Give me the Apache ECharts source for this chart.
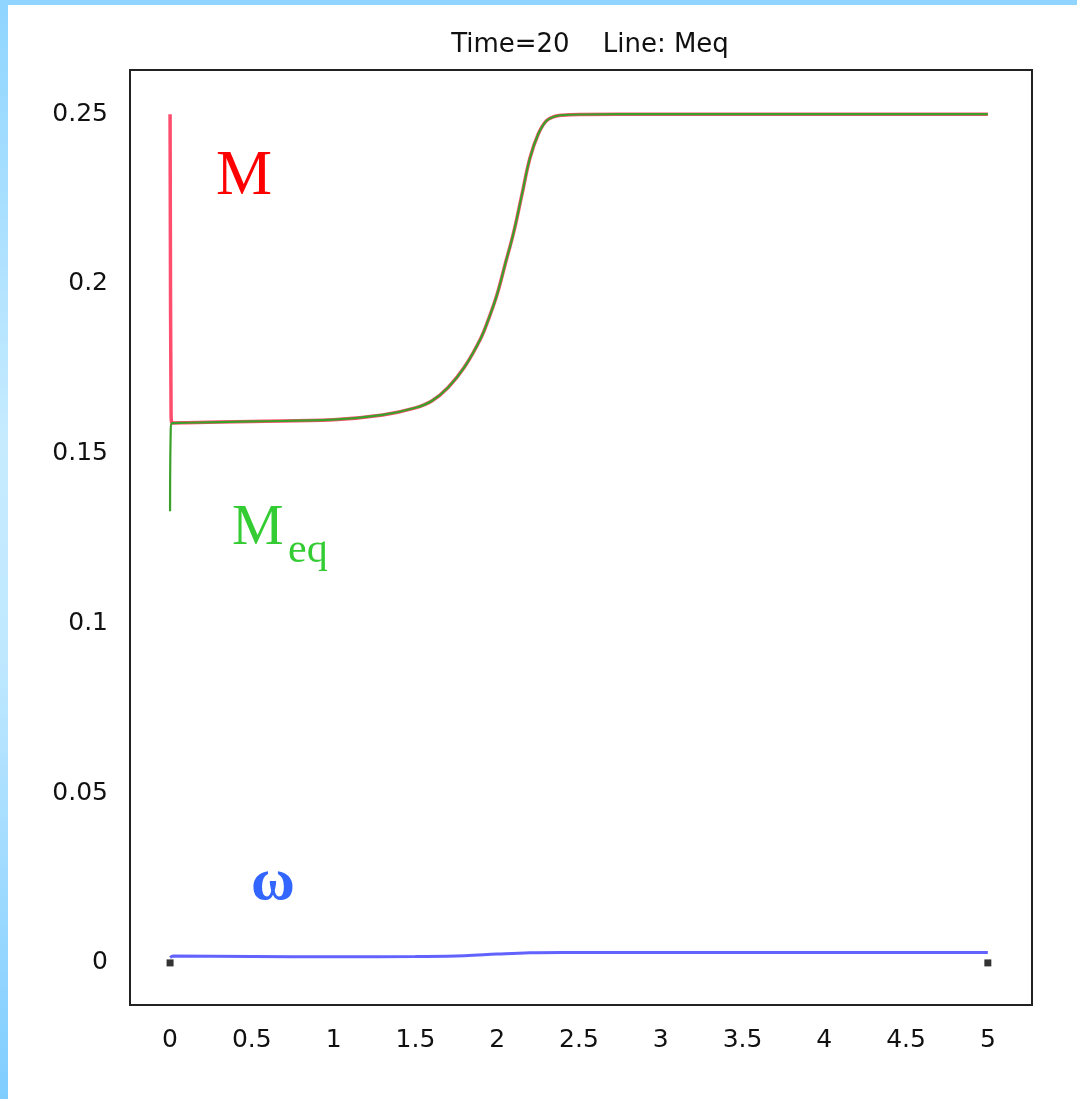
<!DOCTYPE html>
<html>
<head>
<meta charset="utf-8">
<script src="https://cdn.jsdelivr.net/npm/echarts@6/dist/echarts.min.js"></script>
<style>
  html, body { margin: 0; padding: 0; background: #fff; }
  .page { position: relative; width: 1077px; height: 1099px; overflow: hidden; }
  .edge-top { position: absolute; left: 0; top: 0; width: 1077px; height: 5px; background: #8fd5ff; }
  .edge-left { position: absolute; left: 0; top: 0; width: 8px; height: 1099px;
    background: linear-gradient(to bottom, #8fd5ff 0%, #c6ebff 40%, #bfe8ff 60%, #7fcdff 100%); }
  #chart { position: absolute; left: 0; top: 0; width: 1077px; height: 1099px; }
</style>
</head>
<body>
<div class="page">
  <div class="edge-top"></div>
  <div class="edge-left"></div>
  <div id="chart"></div>
</div>
<script>
// tick labels
const xTicks = [0, 0.5, 1, 1.5, 2, 2.5, 3, 3.5, 4, 4.5, 5]
const yTicks = [0, 0.05, 0.1, 0.15, 0.2, 0.25]

// shared tail of M and Meq (they overlap after the first instant)
const tailX = [0.1, 0.5, 1.0, 1.3, 1.5, 1.6, 1.7, 1.8, 1.9, 1.95, 2.0, 2.05, 2.1, 2.15, 2.2, 2.25, 2.3, 2.35, 2.4, 2.5, 3, 5]
const tailY = [0.1591, 0.1595, 0.1600, 0.1614, 0.1635, 0.1655, 0.1695, 0.1755, 0.1840, 0.1900, 0.1970, 0.2060, 0.2150, 0.2260, 0.2370, 0.2440, 0.2480, 0.2493, 0.2497, 0.2499, 0.2500, 0.2500]

// start of each curve
const mHeadX = [0, 0.006, 0.012]
const mHeadY = [0.25, 0.163, 0.159]
const meqHeadX = [0, 0.004, 0.012]
const meqHeadY = [0.133, 0.157, 0.159]

// omega
const wX = [0, 0.02, 0.5, 1.0, 1.5, 1.8, 2.0, 2.2, 2.4, 3, 4, 5]
const wY = [0.0016, 0.0020, 0.0019, 0.0018, 0.0019, 0.0021, 0.0026, 0.0030, 0.0031, 0.0031, 0.0031, 0.0031]

// end markers
const markX = [0, 5]
const markY = [0, 0]

const pair = (xs, ys) => xs.map((x, i) => [x, ys[i]])
const mData = pair(mHeadX.concat(tailX), mHeadY.concat(tailY))
const meqData = pair(meqHeadX.concat(tailX), meqHeadY.concat(tailY))

const labelFont = {fontFamily: 'DejaVu Sans', fontSize: 25, color: '#111'}

const chart = echarts.init(document.getElementById('chart'), null, {renderer: 'canvas'})
chart.setOption({
  animation: false,
  title: {
    text: 'Time=20    Line: Meq',
    left: 585, top: 27, textAlign: 'center',
    textStyle: {fontFamily: 'DejaVu Sans', fontSize: 26, fontWeight: 'normal', color: '#111'}
  },
  grid: {
    left: 130, top: 70, right: 45, bottom: 94,
    show: true, borderColor: '#222', borderWidth: 2, backgroundColor: 'transparent'
  },
  xAxis: {
    type: 'value', min: -0.245, max: 5.27,
    axisLine: {show: false}, splitLine: {show: false},
    axisTick: {show: false},
    axisLabel: Object.assign({customValues: xTicks, margin: 23}, labelFont)
  },
  yAxis: {
    type: 'value', min: -0.0124, max: 0.263,
    axisLine: {show: false}, splitLine: {show: false},
    axisTick: {show: false},
    axisLabel: Object.assign({customValues: yTicks, margin: 22}, labelFont)
  },
  series: [
    {
      name: 'M', type: 'line', data: mData, showSymbol: false,
      smooth: 0.4,
      lineStyle: {color: '#ff4d6d', width: 3.5}
    },
    {
      name: 'Meq', type: 'line', data: meqData, showSymbol: false,
      smooth: 0.4,
      lineStyle: {color: '#3aa02a', width: 2.2}
    },
    {
      name: 'omega', type: 'line', data: pair(wX, wY), showSymbol: false,
      smooth: 0.4,
      lineStyle: {color: '#3b3bff', width: 3, opacity: 0.8}
    },
    {
      name: 'ends', type: 'scatter', data: pair(markX, markY),
      symbol: 'rect', symbolSize: 7, itemStyle: {color: '#000'}
    }
  ],
  graphic: [
    {type: 'text', left: 216, top: 146,
      style: {text: 'M', font: '63px "Liberation Serif"', fill: '#ff0000'}},
    {type: 'text', left: 232, top: 500,
      style: {text: 'M', font: '58px "Liberation Serif"', fill: '#33cc33'}},
    {type: 'text', left: 288, top: 530,
      style: {text: 'eq', font: '42px "Liberation Serif"', fill: '#33cc33'}},
    {type: 'text', left: 251, top: 853,
      style: {text: 'ω', font: 'bold 60px "Liberation Serif"', fill: '#3366ff'}}
  ]
})
</script>
</body>
</html>
